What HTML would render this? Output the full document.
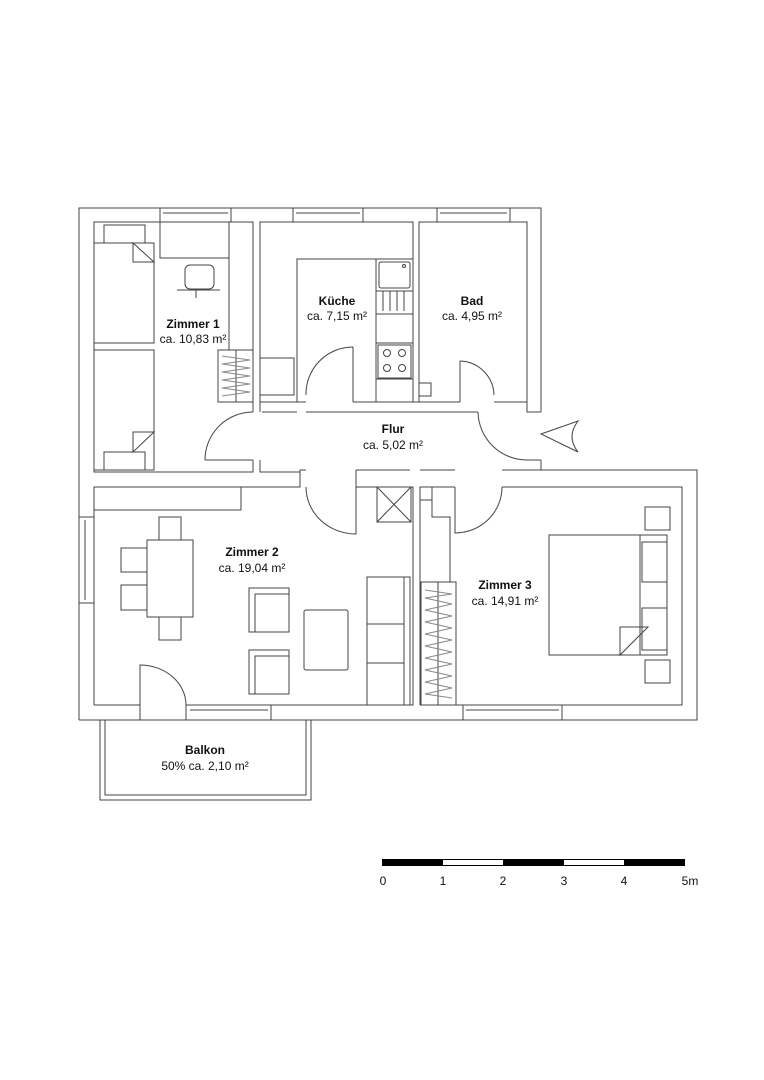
<!DOCTYPE html>
<html><head><meta charset="utf-8"><style>
html,body{margin:0;padding:0;background:#fff}
svg{display:block}
text{font-family:"Liberation Sans",Arial,sans-serif;font-size:12px;fill:#111;text-anchor:middle}
.b{font-weight:bold}
</style></head><body>
<svg width="764" height="1080" viewBox="0 0 764 1080" xmlns="http://www.w3.org/2000/svg">
<g fill="none" stroke="#444" stroke-width="1">
<!-- outer walls -->
<path d="M79,720 V208 H541 V412 M541,460 V470 H697 V720 H79"/>
<!-- windows top -->
<rect x="160" y="208" width="71" height="14"/><line x1="163" y1="213" x2="228" y2="213"/>
<rect x="293" y="208" width="70" height="14"/><line x1="296" y1="213" x2="360" y2="213"/>
<rect x="437" y="208" width="73" height="14"/><line x1="440" y1="213" x2="507" y2="213"/>
<!-- Zimmer 1 -->
<path d="M253,412 V222 H94 V472 H253 V460"/>
<path d="M260,412 V402 H297 M260,460 V472 H300"/>
<rect x="94" y="243" width="60" height="100"/>
<rect x="104" y="225" width="41" height="18"/>
<path d="M133,243 V262 H154 Z"/>
<rect x="94" y="350" width="60" height="120"/>
<rect x="104" y="452" width="41" height="18"/>
<path d="M133,452 V432 H154 Z"/>
<rect x="160" y="222" width="69" height="36"/>
<line x1="229" y1="258" x2="229" y2="350"/>
<rect x="185" y="265" width="29" height="24" rx="5"/>
<path d="M177,290 H220 M196,290 V298"/>
<rect x="218" y="350" width="35" height="52"/>
<line x1="236" y1="350" x2="236" y2="402"/>
<path d="M222,356 L250,360 L222,364 L250,368 L222,372 L250,376 L222,380 L250,384 L222,388 L250,392 L222,396" stroke="#888"/>
<!-- Flur door into Z1 -->
<path d="M205,460 H253 M205,460 A48,48 0 0 1 253,412"/>
<!-- Kitchen -->
<path d="M260,402 V222 H413 V402 H353"/>
<path d="M297,402 V259 H413"/>
<rect x="376" y="259" width="37" height="143"/>
<rect x="379" y="262" width="31" height="26" rx="2"/>
<circle cx="404" cy="266" r="1.5"/>
<path d="M376,291 H413 M383,291 V311 M390,291 V311 M397,291 V311 M404,291 V311 M376,314 H413 M376,343 H413 M376,379 H413"/>
<rect x="378" y="345" width="33" height="33"/>
<circle cx="387" cy="353" r="3.5"/><circle cx="402" cy="353" r="3.5"/>
<circle cx="387" cy="368" r="3.5"/><circle cx="402" cy="368" r="3.5"/>
<rect x="260" y="358" width="34" height="37"/>
<path d="M353,402 V347 M353,347 A47,47 0 0 0 306,395"/>
<path d="M297,402 H306"/>
<!-- Bad -->
<path d="M419,402 V222 H527 V402 H494 M460,402 H419"/>
<rect x="419" y="383" width="12" height="13"/>
<path d="M460,402 V361 M460,361 A35,35 0 0 1 494,395"/>
<path d="M413,402 H419 M527,402 V412 H541"/>
<!-- Flur top wall lower line -->
<path d="M262,412 H297 M306,412 H478"/>
<!-- entrance door -->
<path d="M478,412 A49,49 0 0 0 527,460 H541"/>
<path d="M541,434 L578,421 Q566,437 578,452 Z"/>
<!-- Flur bottom wall -->
<path d="M300,470 H306 M356,470 H410 M420,470 H455 M502,470 H541"/>
<!-- Zimmer 2 -->
<path d="M94,705 V487 H300 V470 M356,470 V487 H413 V705 H186 M140,705 H94"/>
<rect x="94" y="487" width="147" height="23"/>
<rect x="79" y="517" width="15" height="86"/><line x1="85" y1="520" x2="85" y2="600"/>
<rect x="147" y="540" width="46" height="77"/>
<rect x="159" y="517" width="22" height="23"/><rect x="159" y="617" width="22" height="23"/>
<rect x="121" y="548" width="26" height="24"/><rect x="121" y="585" width="26" height="25"/>
<rect x="249" y="588" width="40" height="44"/><path d="M255,632 V594 H289"/>
<rect x="249" y="650" width="40" height="44"/><path d="M255,694 V656 H289"/>
<rect x="304" y="610" width="44" height="60" rx="2"/>
<rect x="367" y="577" width="43" height="128"/>
<path d="M404,577 V705 M367,624 H404 M367,663 H404"/>
<rect x="377" y="487" width="34" height="35"/><path d="M377,487 L411,522 M411,487 L377,522"/>
<path d="M356,487 V534 A50,47 0 0 1 306,487"/>
<path d="M140,720 V665 A46,40 0 0 1 186,705 V720"/>
<rect x="186" y="705" width="85" height="15"/><line x1="190" y1="710" x2="268" y2="710"/>
<!-- Zimmer 3 -->
<path d="M420,705 V487 H455 M502,487 H682 V705 H420"/>
<rect x="420" y="487" width="12" height="13"/>
<path d="M420,500 H432 V517 H450 V582"/>
<rect x="421" y="582" width="35" height="123"/>
<line x1="438" y1="582" x2="438" y2="705"/>
<path d="M425,590 L452,594 L425,598 L452,604 L425,610 L452,616 L425,622 L452,628 L425,634 L452,640 L425,646 L452,652 L425,658 L452,664 L425,670 L452,676 L425,682 L452,688 L425,694 L452,698" stroke="#888"/>
<path d="M455,487 V533 A47,46 0 0 0 502,487"/>
<rect x="549" y="535" width="118" height="120"/>
<path d="M640,535 V655"/>
<rect x="642" y="542" width="25" height="40"/><rect x="642" y="608" width="25" height="42"/>
<path d="M620,655 V627 H648 Z"/>
<rect x="645" y="507" width="25" height="23"/><rect x="645" y="660" width="25" height="23"/>
<rect x="463" y="705" width="99" height="15"/><line x1="466" y1="710" x2="559" y2="710"/>
<!-- Balkon -->
<path d="M100,720 V800 H311 V720 M105,720 V795 H306 V720"/>
</g>
<g>
<text x="193" y="328" class="b">Zimmer 1</text>
<text x="193" y="343">ca. 10,83 m²</text>
<text x="337" y="305" class="b">Küche</text>
<text x="337" y="320">ca. 7,15 m²</text>
<text x="472" y="305" class="b">Bad</text>
<text x="472" y="320">ca. 4,95 m²</text>
<text x="393" y="433" class="b">Flur</text>
<text x="393" y="449">ca. 5,02 m²</text>
<text x="252" y="556" class="b">Zimmer 2</text>
<text x="252" y="572">ca. 19,04 m²</text>
<text x="505" y="589" class="b">Zimmer 3</text>
<text x="505" y="605">ca. 14,91 m²</text>
<text x="205" y="754" class="b">Balkon</text>
<text x="205" y="770">50% ca. 2,10 m²</text>
</g>
<g stroke="#000" stroke-width="1">
<rect x="382.5" y="859.5" width="60" height="6" fill="#000"/>
<rect x="442.5" y="859.5" width="61" height="6" fill="#fff"/>
<rect x="503.5" y="859.5" width="60" height="6" fill="#000"/>
<rect x="563.5" y="859.5" width="61" height="6" fill="#fff"/>
<rect x="624.5" y="859.5" width="60" height="6" fill="#000"/>
</g>
<g>
<text x="383" y="885">0</text><text x="443" y="885">1</text><text x="503" y="885">2</text>
<text x="564" y="885">3</text><text x="624" y="885">4</text><text x="690" y="885">5m</text>
</g>
</svg>
</body></html>
